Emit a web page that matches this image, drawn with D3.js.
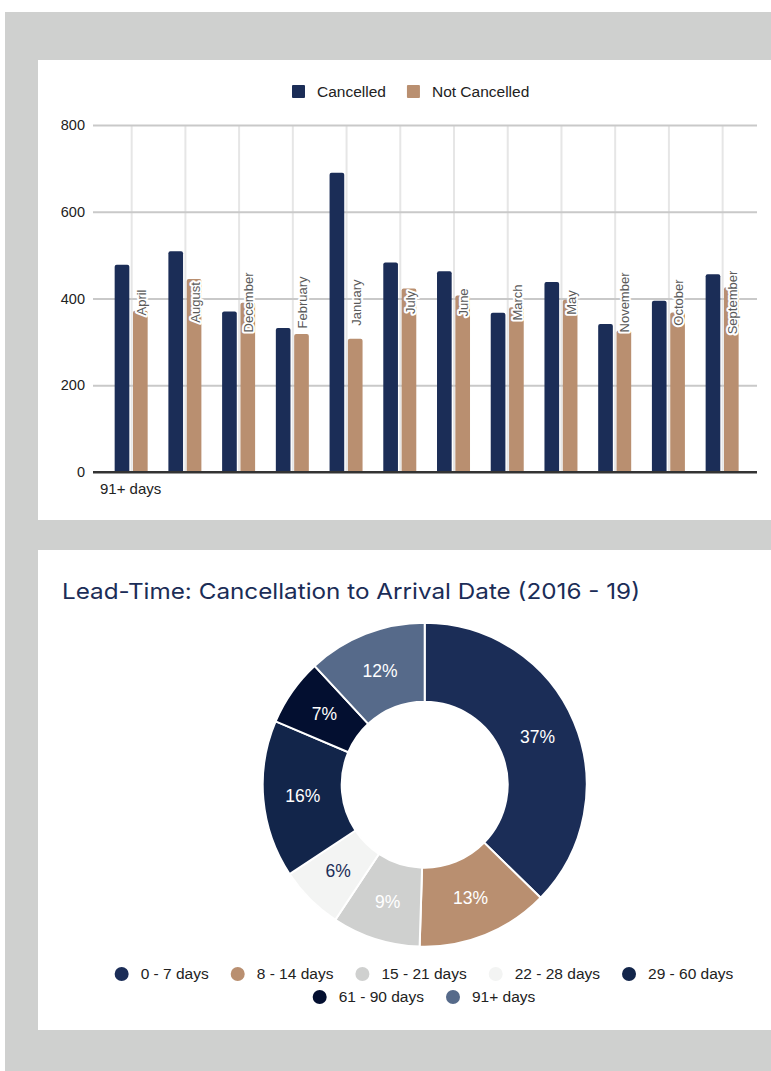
<!DOCTYPE html>
<html>
<head>
<meta charset="utf-8">
<script src="https://cdn.jsdelivr.net/npm/d3@7"></script>
<style>
  html, body { margin: 0; padding: 0; background: #fff; }
  svg { display: block; }
  text { font-family: "Liberation Sans", Arial, sans-serif; }
</style>
</head>
<body>
<svg id="chart" width="771" height="1071"></svg>
<script>
'use strict';

// bar chart: 91+ days lead time, by arrival month
var months = ['April', 'August', 'December', 'February', 'January', 'July',
  'June', 'March', 'May', 'November', 'October', 'September'];
var cancelled = [478, 509, 370, 332, 690, 483, 463, 367, 438, 341, 395, 456];
var notCancelled = [372, 445, 390, 318, 307, 423, 407, 380, 397, 326, 368, 426];
var seriesNames = ['Cancelled', 'Not Cancelled'];
var yTicks = [0, 200, 400, 600, 800];
var bucketLabel = '91+ days';

// donut: share of cancellations by lead time
var leadBuckets = ['0 - 7 days', '8 - 14 days', '15 - 21 days', '22 - 28 days',
  '29 - 60 days', '61 - 90 days', '91+ days'];
var leadShares = [37.3, 13.2, 8.8, 6.4, 15.7, 6.7, 11.9];
var donutTitle = 'Lead-Time: Cancellation to Arrival Date (2016 - 19)';

var navy = '#1b2d57';
var tan = '#b98f70';
var seriesColors = [navy, tan];
var leadColors = [navy, tan, '#cfd0cf', '#f3f4f3', '#12254a', '#030f30', '#566a8a'];

var svg = d3.select('#chart');

// page background and the two cards
svg.append('rect').attr('x', 5).attr('y', 12).attr('width', 766).attr('height', 1059).attr('fill', '#cfd0cf');
svg.append('rect').attr('x', 38).attr('y', 60).attr('width', 733).attr('height', 460).attr('fill', '#fff');
svg.append('rect').attr('x', 38).attr('y', 550).attr('width', 733).attr('height', 480).attr('fill', '#fff');

/* ---------- bar chart ---------- */

var x0 = d3.scaleBand().domain(months).range([104.8, 749.5]);
var x1 = d3.scaleBand().domain(seriesNames).range([-17, 16]).paddingInner(0.2);
var y = d3.scaleLinear().domain([0, 800]).range([472, 125]);

var bars = svg.append('g');

// vertical gridlines through the middle of each month
bars.selectAll('.vgrid')
  .data(months)
  .enter()
  .append('line')
  .attr('class', 'vgrid')
  .attr('x1', function(d) { return x0(d) + x0.bandwidth() / 2; })
  .attr('x2', function(d) { return x0(d) + x0.bandwidth() / 2; })
  .attr('y1', y(800))
  .attr('y2', y(0))
  .attr('stroke', '#e6e6e6')
  .attr('stroke-width', 2);

var yAxis = d3.axisLeft(y)
  .tickValues(yTicks)
  .tickSize(-(757 - 93))
  .tickPadding(8)
  .tickFormat(d3.format('d'));

var yAxisG = bars.append('g')
  .attr('transform', 'translate(93,0)')
  .call(yAxis);

yAxisG.select('.domain').remove();
yAxisG.selectAll('.tick line')
  .attr('stroke', function(d) { return d === 0 ? '#333' : '#c9c9c9'; })
  .attr('stroke-width', 2);
yAxisG.selectAll('.tick text')
  .attr('fill', '#222')
  .style('font-size', '14.5px')
  .style('font-family', '"Liberation Sans", Arial, sans-serif');

// bar values with rounded tops
function topRounded(x, yTop, w, h, r) {
  r = Math.min(r, h, w / 2);
  return 'M' + x + ',' + (yTop + h) +
    'V' + (yTop + r) +
    'Q' + x + ',' + yTop + ' ' + (x + r) + ',' + yTop +
    'H' + (x + w - r) +
    'Q' + (x + w) + ',' + yTop + ' ' + (x + w) + ',' + (yTop + r) +
    'V' + (yTop + h) + 'Z';
}

var rows = months.map(function(m, i) {
  return { month: m, values: [cancelled[i], notCancelled[i]] };
});

var group = bars.selectAll('.month')
  .data(rows)
  .enter()
  .append('g')
  .attr('class', 'month')
  .attr('transform', function(d) { return 'translate(' + (x0(d.month) + x0.bandwidth() / 2) + ',0)'; });

group.selectAll('path')
  .data(function(d) {
    return d.values.map(function(v, j) { return { series: seriesNames[j], value: v, color: seriesColors[j] }; });
  })
  .enter()
  .append('path')
  .attr('d', function(d) {
    return topRounded(x1(d.series), y(d.value), x1.bandwidth(), y(0) - y(d.value), 2);
  })
  .attr('fill', function(d) { return d.color; });

// redraw the baseline above the bars
bars.append('line')
  .attr('x1', 93).attr('x2', 757)
  .attr('y1', y(0)).attr('y2', y(0))
  .attr('stroke', '#333')
  .attr('stroke-width', 2);

// rotated month labels sitting on the not-cancelled bars
var labelY = (y(0) + y(800)) / 2 + 4;
group.append('text')
  .attr('transform', function() {
    var cx = x1('Not Cancelled') + x1.bandwidth() / 2 + 1;
    return 'translate(' + cx + ',' + labelY + ') rotate(-90)';
  })
  .attr('text-anchor', 'middle')
  .attr('dy', '0.35em')
  .attr('fill', '#5a5a5a')
  .attr('stroke', '#fff')
  .attr('stroke-width', 4)
  .attr('stroke-linejoin', 'round')
  .attr('paint-order', 'stroke')
  .style('font-size', '13px')
  .text(function(d) { return d.month; });

bars.append('text')
  .attr('x', 100)
  .attr('y', 494)
  .attr('fill', '#222')
  .style('font-size', '15px')
  .text(bucketLabel);

// legend above the bars
var topLegend = svg.append('g').attr('transform', 'translate(292,85)');
var legendX = 0;
seriesNames.forEach(function(name, i) {
  var item = topLegend.append('g').attr('transform', 'translate(' + legendX + ',0)');
  item.append('rect')
    .attr('width', 13).attr('height', 13).attr('rx', 1)
    .attr('fill', seriesColors[i]);
  var t = item.append('text')
    .attr('x', 25)
    .attr('y', 12)
    .attr('fill', '#222')
    .style('font-size', '15.5px')
    .text(name);
  legendX += 25 + t.node().getComputedTextLength() + 21;
});

/* ---------- donut chart ---------- */

svg.append('text')
  .attr('x', 62)
  .attr('y', 599)
  .attr('fill', navy)
  .style('font-family', 'Inter, "Noto Sans", sans-serif')
  .style('font-size', '22px')
  .attr('textLength', 578)
  .attr('lengthAdjust', 'spacingAndGlyphs')
  .text(donutTitle);

var cx = 424.7;
var cy = 784.7;
var pie = d3.pie().sort(null).value(function(d) { return d.share; });
var arc = d3.arc().innerRadius(83).outerRadius(162);

var slices = leadBuckets.map(function(b, i) {
  return { bucket: b, share: leadShares[i], color: leadColors[i] };
});

var donut = svg.append('g').attr('transform', 'translate(' + cx + ',' + cy + ')');
var arcs = pie(slices);

donut.selectAll('path')
  .data(arcs)
  .enter()
  .append('path')
  .attr('d', arc)
  .attr('fill', function(d) { return d.data.color; })
  .attr('stroke', '#fff')
  .attr('stroke-width', 2);

donut.selectAll('text')
  .data(arcs)
  .enter()
  .append('text')
  .attr('transform', function(d) { return 'translate(' + arc.centroid(d) + ')'; })
  .attr('text-anchor', 'middle')
  .attr('dy', '0.35em')
  .attr('fill', function(d) { return d.data.bucket === '22 - 28 days' ? navy : '#fff'; })
  .style('font-size', '17.5px')
  .text(function(d) { return Math.round(d.data.share) + '%'; });

// legend below the donut, two rows as in the original
var legendRows = [slices.slice(0, 5), slices.slice(5)];
var legendYs = [974, 997];

legendRows.forEach(function(row, r) {
  var g = svg.append('g');
  var pos = 0;
  row.forEach(function(d) {
    var item = g.append('g').attr('transform', 'translate(' + pos + ',0)');
    item.append('circle')
      .attr('cx', 7).attr('cy', 0).attr('r', 7)
      .attr('fill', d.color);
    var t = item.append('text')
      .attr('x', 26)
      .attr('dy', '0.35em')
      .attr('fill', '#222')
      .style('font-size', '15.5px')
      .text(d.bucket);
    pos += 26 + t.node().getComputedTextLength() + 22;
  });
  var width = pos - 22;
  g.attr('transform', 'translate(' + (424 - width / 2) + ',' + legendYs[r] + ')');
});
</script>
</body>
</html>
